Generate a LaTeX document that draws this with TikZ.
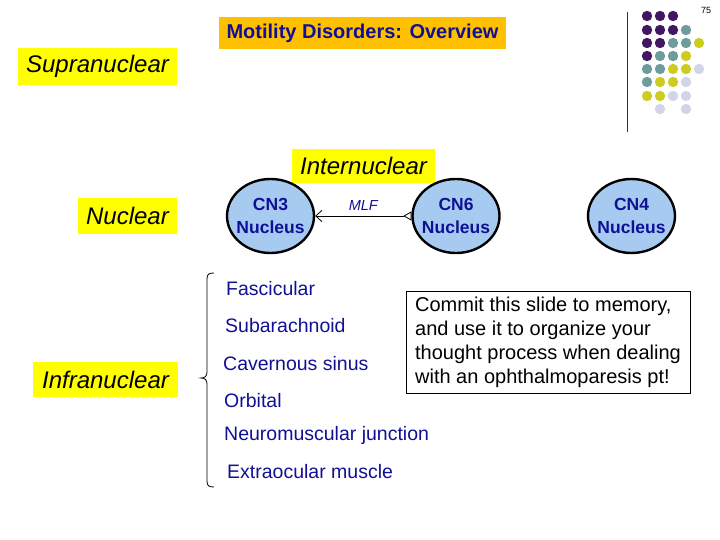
\documentclass[tikz,border=0pt]{standalone}
\usepackage{fontspec}
\setmainfont{Liberation Sans}
\usetikzlibrary{shapes.geometric,arrows.meta}

\definecolor{titleorange}{RGB}{255,192,0}
\definecolor{levelyellow}{RGB}{255,255,0}
\definecolor{navytext}{RGB}{16,16,150}
\definecolor{nucleusblue}{RGB}{166,202,240}
\definecolor{dotpurple}{RGB}{66,22,98}
\definecolor{dotteal}{RGB}{110,156,158}
\definecolor{dotyellow}{RGB}{204,204,34}
\definecolor{dotlavender}{RGB}{212,212,232}

\newcommand{\nucl}[1]{\makebox[0pt]{CN#1}\\\makebox[0pt]{Nucleus}}

\begin{document}
\begin{tikzpicture}[x=1pt,y=1pt,yscale=-1,
  levelbox/.style={fill=levelyellow, inner sep=0pt, font=\fontsize{24}{28}\selectfont\itshape},
  nucleus/.style={ellipse, draw=black, line width=2.4pt, fill=nucleusblue, minimum width=87pt, minimum height=74pt, inner sep=0pt, align=center, text=navytext, font=\fontsize{17.5}{23}\selectfont\bfseries},
  siteitem/.style={anchor=west, inner sep=0pt, text=navytext, font=\fontsize{19.5}{22}\selectfont}]
\useasboundingbox (0,0) rectangle (720,540);

%Text: page number
\node (pagenum) at (706,10) {\fontsize{9}{10}\selectfont 75};

%Shape: title box
\node [fill=titleorange, minimum width=287pt, minimum height=32pt, inner sep=0pt, text=navytext, font=\fontsize{20}{22}\selectfont\bfseries] (title) at (362.5,33) {Motility Disorders: Overview};

%Shape: level boxes
\node [levelbox, minimum width=159pt, minimum height=37pt] (supra) at (97.5,66.5) {Supranuclear};
\node [levelbox, minimum width=143pt, minimum height=34pt] (inter) at (363.5,166) {Internuclear};
\node [levelbox, minimum width=99pt, minimum height=36pt] (nuclear) at (127.5,216) {Nuclear};
\node [levelbox, minimum width=145pt, minimum height=35pt] (infra) at (105.5,379.5) {Infranuclear};

%Shape: nuclei
\node [nucleus] (cnthree) at (270.5,216) {\nucl{3}};
\node [nucleus] (cnsix) at (456,216) {\nucl{6}};
\node [nucleus] (cnfour) at (631.5,216) {\nucl{4}};

%Straight Lines: MLF
\draw [line width=0.8pt, {Triangle[open,reversed,length=8pt,width=9pt]}-{Straight Barb[length=6pt,width=11pt]}] (cnsix) -- (cnthree) node [midway, above=2pt, text=navytext, font=\fontsize{14.5}{17}\selectfont\itshape] (mlf) {MLF};

%Shape: brace
\draw [line width=0.8pt] (214,273) .. controls (209,273) and (207,274) .. (207,279) -- (207,372) .. controls (207,376) and (205,378) .. (201,378) .. controls (205,378) and (207,380) .. (207,384) -- (207,481) .. controls (207,486) and (209,487) .. (214,487) ;

%Text: infranuclear sites
\node [siteitem] (fasc) at (226,289) {Fascicular};
\node [siteitem] (subarach) at (225,326) {Subarachnoid};
\node [siteitem] (cavsinus) at (223,364) {Cavernous sinus};
\node [siteitem] (orbital) at (224,401) {Orbital};
\node [siteitem] (nmj) at (224,435) {Neuromuscular junction};
\node [siteitem] (eom) at (227,472) {Extraocular muscle};

%Shape: note box
\node [draw=black, line width=0.8pt, minimum width=284pt, minimum height=102pt, inner sep=0pt, align=left, font=\fontsize{20}{24}\selectfont] (note) at (548,342) {Commit this slide to memory,\\and use it to organize your\\thought process when dealing\\with an ophthalmoparesis pt!};

%Straight Lines: decoration rule
\draw [line width=1pt, black!80] (627,12) -- (627,132) ;

%Shape: dot grid
\fill [dotpurple] (647,16) circle [radius=5.2] ;
\fill [dotpurple] (660,16) circle [radius=5.2] ;
\fill [dotpurple] (673,16) circle [radius=5.2] ;
\fill [dotpurple] (647,30) circle [radius=5.2] ;
\fill [dotpurple] (660,30) circle [radius=5.2] ;
\fill [dotpurple] (673,30) circle [radius=5.2] ;
\fill [dotteal] (686,30) circle [radius=5.2] ;
\fill [dotpurple] (647,43) circle [radius=5.2] ;
\fill [dotpurple] (660,43) circle [radius=5.2] ;
\fill [dotteal] (673,43) circle [radius=5.2] ;
\fill [dotteal] (686,43) circle [radius=5.2] ;
\fill [dotyellow] (699,43) circle [radius=5.2] ;
\fill [dotpurple] (647,56) circle [radius=5.2] ;
\fill [dotteal] (660,56) circle [radius=5.2] ;
\fill [dotteal] (673,56) circle [radius=5.2] ;
\fill [dotyellow] (686,56) circle [radius=5.2] ;
\fill [dotteal] (647,69) circle [radius=5.2] ;
\fill [dotteal] (660,69) circle [radius=5.2] ;
\fill [dotyellow] (673,69) circle [radius=5.2] ;
\fill [dotyellow] (686,69) circle [radius=5.2] ;
\fill [dotlavender] (699,69) circle [radius=5.2] ;
\fill [dotteal] (647,82) circle [radius=5.2] ;
\fill [dotyellow] (660,82) circle [radius=5.2] ;
\fill [dotyellow] (673,82) circle [radius=5.2] ;
\fill [dotlavender] (686,82) circle [radius=5.2] ;
\fill [dotyellow] (647,96) circle [radius=5.2] ;
\fill [dotyellow] (660,96) circle [radius=5.2] ;
\fill [dotlavender] (673,96) circle [radius=5.2] ;
\fill [dotlavender] (686,96) circle [radius=5.2] ;
\fill [dotlavender] (660,109) circle [radius=5.2] ;
\fill [dotlavender] (686,109) circle [radius=5.2] ;

\end{tikzpicture}
\end{document}
